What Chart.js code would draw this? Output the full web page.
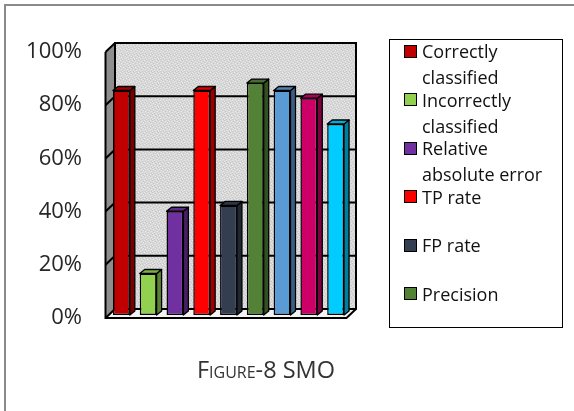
<!DOCTYPE html>
<html>
<head>
<meta charset="utf-8">
<script src="https://cdn.jsdelivr.net/npm/chart.js@4.4.1/dist/chart.umd.min.js"></script>
<style>
  html, body { margin: 0; padding: 0; background: #fff; width: 574px; height: 411px; overflow: hidden; }
  #wrap { position: relative; width: 574px; height: 411px; }
  #c { position: absolute; left: 0; top: 0; }
  #frame { position: absolute; left: 4px; top: 4px; width: 640px; height: 480px;
           border-left: 2px solid #8a8a8a; border-top: 2px solid #8a8a8a; }
  #legend { position: absolute; left: 389px; top: 39px; width: 174px; height: 289px;
            box-sizing: border-box; border: 1.5px solid #000; }
  .item { position: absolute; left: 404px; font-family: "Open Sans", sans-serif; font-size: 18px;
          line-height: 26px; color: #111; }
  .sw { position: absolute; left: 0; top: 6.5px; width: 13px; height: 13px; box-sizing: border-box;
        border: 1.5px solid #000; }
  .tx { position: absolute; left: 18px; top: 0; width: 141px; white-space: normal; }
  #title { position: absolute; left: 146px; width: 240px; top: 354px; text-align: center;
           font-family: "Open Sans", sans-serif; font-size: 23.5px; line-height: 30px;
           font-variant: small-caps; color: #333; }
</style>
</head>
<body>
<div id="wrap">
  <div id="frame"></div>
  <canvas id="c" width="574" height="411"></canvas>
  <div id="legend"></div>
  <div id="title">Figure-8 SMO</div>
</div>
<script>
// ---- data ----
const categories = ['SMO'];
const seriesNames = ['Correctly classified', 'Incorrectly classified', 'Relative absolute error',
  'TP rate', 'FP rate', 'Precision', 'Recall', 'F-Measure', 'ROC Area'];
const seriesValues = [84.4, 15.6, 39.0, 84.4, 41.2, 87.2, 84.4, 81.5, 71.8];
const seriesColors = ['#C00000', '#92D050', '#7030A0', '#FF0000', '#333F50', '#538135', '#5B9BD5', '#CC0066', '#00CCFF'];
const yTickValues = [0, 20, 40, 60, 80, 100];
const legendShownCount = 6;

// ---- helpers ----
function shade(hex, f) {
  const n = parseInt(hex.slice(1), 16);
  const r = Math.round(((n >> 16) & 255) * f), g = Math.round(((n >> 8) & 255) * f), b = Math.round((n & 255) * f);
  return `rgb(${r},${g},${b})`;
}
function makePattern(ctx) {
  const p = document.createElement('canvas');
  p.width = 6; p.height = 6;
  const c = p.getContext('2d');
  c.fillStyle = '#d8d8d8'; c.fillRect(0, 0, 6, 6);
  const light = [[0,0],[3,1],[1,3],[4,4],[5,2],[2,5]];
  const dark = [[2,0],[5,1],[0,2],[3,3],[1,5],[4,5]];
  c.fillStyle = '#e9e9e9'; light.forEach(([x,y]) => c.fillRect(x, y, 1, 1));
  c.fillStyle = '#c6c6c6'; dark.forEach(([x,y]) => c.fillRect(x, y, 1, 1));
  return ctx.createPattern(p, 'repeat');
}

// depth offsets relative to the bar plane (chart area)
const FX = -2.5, FY = 3, BX = 7, BY = -6;
const BDX = 5, BDY = -4;

const wallsPlugin = {
  id: 'walls3d',
  beforeDatasetsDraw(chart) {
    const ctx = chart.ctx, a = chart.chartArea, ys = chart.scales.y;
    const L = a.left, R = a.right, T = ys.getPixelForValue(100), B = ys.getPixelForValue(0);
    ctx.save();
    ctx.fillStyle = makePattern(ctx);
    ctx.fillRect(L + BX, T + BY, R - L, B - T);
    ctx.beginPath();
    ctx.moveTo(L + FX, T + FY); ctx.lineTo(L + BX, T + BY); ctx.lineTo(L + BX, B + BY); ctx.lineTo(L + FX, B + FY);
    ctx.closePath();
    ctx.fillStyle = '#8e8e8e'; ctx.fill();
    ctx.beginPath();
    ctx.moveTo(L + FX, B + FY); ctx.lineTo(R + FX, B + FY); ctx.lineTo(R + BX, B + BY); ctx.lineTo(L + BX, B + BY);
    ctx.closePath();
    ctx.fillStyle = '#f2f2f2'; ctx.fill();
    ctx.strokeStyle = '#000'; ctx.lineWidth = 2;
    yTickValues.forEach(v => {
      const y = ys.getPixelForValue(v);
      ctx.beginPath();
      ctx.moveTo(L + FX, y + FY); ctx.lineTo(L + BX, y + BY); ctx.lineTo(R + BX, y + BY);
      ctx.stroke();
    });
    ctx.beginPath();
    ctx.rect(L + BX, T + BY, R - L, B - T);
    ctx.stroke();
    ctx.beginPath();
    ctx.moveTo(L + FX, T + FY); ctx.lineTo(L + FX, B + FY); ctx.lineTo(R + FX, B + FY); ctx.lineTo(R + BX, B + BY);
    ctx.stroke();
    ctx.restore();
  },
  afterDatasetsDraw(chart) {
    const ctx = chart.ctx;
    ctx.save();
    ctx.strokeStyle = '#000'; ctx.lineWidth = 1.3; ctx.lineJoin = 'round';
    chart.data.datasets.forEach((ds, i) => {
      const meta = chart.getDatasetMeta(i);
      meta.data.forEach(el => {
        const { x, y, base, width } = el.getProps(['x', 'y', 'base', 'width'], true);
        const l = x - width / 2, r = x + width / 2;
        const col = seriesColors[i];
        ctx.beginPath();
        ctx.moveTo(r, y); ctx.lineTo(r + BDX, y + BDY); ctx.lineTo(r + BDX, base + BDY); ctx.lineTo(r, base);
        ctx.closePath();
        ctx.fillStyle = shade(col, 0.62); ctx.fill(); ctx.stroke();
        ctx.beginPath();
        ctx.moveTo(l, y); ctx.lineTo(l + BDX, y + BDY); ctx.lineTo(r + BDX, y + BDY); ctx.lineTo(r, y);
        ctx.closePath();
        ctx.fillStyle = shade(col, 0.85); ctx.fill(); ctx.stroke();
      });
    });
    ctx.restore();
  }
};

const datasets = seriesNames.map((name, i) => ({
  label: name,
  data: [seriesValues[i]],
  backgroundColor: seriesColors[i],
  borderColor: '#000',
  borderWidth: 1.5,
  borderSkipped: false,
  categoryPercentage: 1.0,
  barPercentage: 0.63
}));

new Chart(document.getElementById('c'), {
  type: 'bar',
  data: { labels: categories, datasets },
  options: {
    responsive: false,
    animation: false,
    devicePixelRatio: 1,
    layout: { padding: { left: 0, top: 49, right: 225, bottom: 96 } },
    plugins: { legend: { display: false }, title: { display: false }, tooltip: { enabled: false } },
    scales: {
      x: { display: false },
      y: {
        min: 0, max: 100,
        afterFit: s => { s.width = 108; },
        afterBuildTicks: s => { s.ticks = yTickValues.map(v => ({ value: v })); },
        grid: { display: false, drawTicks: false },
        border: { display: false },
        ticks: {
          callback: v => v + '%',
          padding: 26,
          labelOffset: 3,
          color: '#262626',
          font: { family: '"Open Sans", sans-serif', size: 22 }
        }
      }
    }
  },
  plugins: [wallsPlugin]
});

// ---- legend (first entries only, as in the reference) ----
const legend = document.getElementById('wrap');
seriesNames.slice(0, legendShownCount).forEach((name, i) => {
  const it = document.createElement('div');
  it.className = 'item';
  it.style.top = (38 + 48.5 * i) + 'px';
  const sw = document.createElement('span');
  sw.className = 'sw';
  sw.style.background = seriesColors[i];
  const tx = document.createElement('div');
  tx.className = 'tx';
  tx.textContent = name;
  it.appendChild(sw); it.appendChild(tx);
  legend.appendChild(it);
});
</script>
</body>
</html>
